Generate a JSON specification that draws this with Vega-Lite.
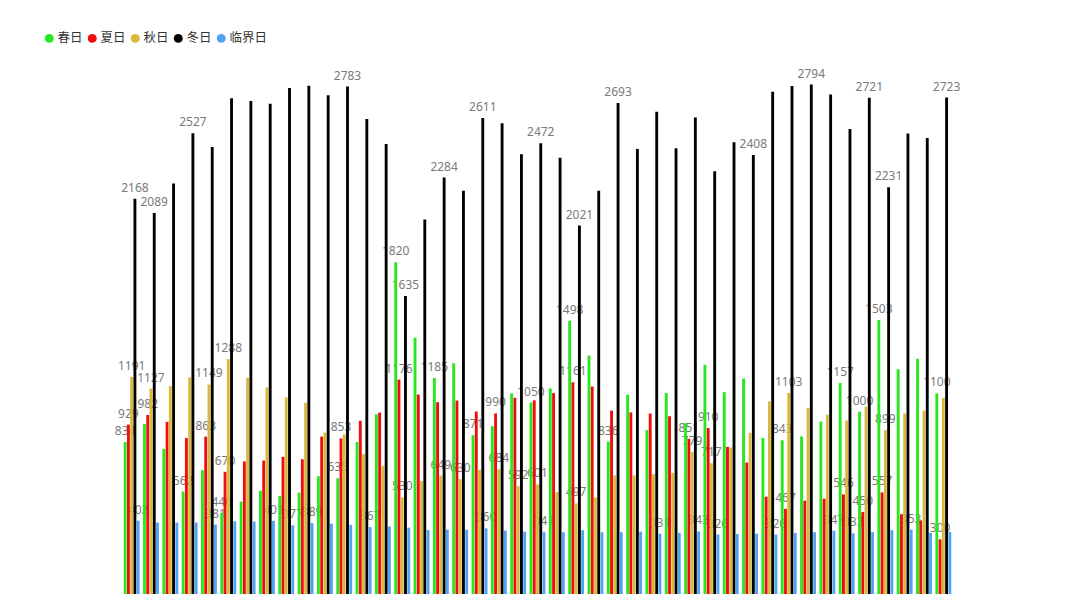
{
  "$schema": "https://vega.github.io/schema/vega-lite/v6.json",
  "width": 831,
  "height": 547,
  "autosize": "none",
  "padding": {"left": 122, "top": 47, "right": 127, "bottom": 21},
  "background": "white",
  "config": {"view": {"stroke": null}},
  "data": {
    "values": [
      {"g": 1, "s": "春日", "v": 834, "lab": true}, {"g": 1, "s": "夏日", "v": 929, "lab": true}, {"g": 1, "s": "秋日", "v": 1191, "lab": true}, {"g": 1, "s": "冬日", "v": 2168, "lab": true}, {"g": 1, "s": "临界日", "v": 402, "lab": true},
      {"g": 2, "s": "春日", "v": 933}, {"g": 2, "s": "夏日", "v": 982, "lab": true}, {"g": 2, "s": "秋日", "v": 1127, "lab": true}, {"g": 2, "s": "冬日", "v": 2089, "lab": true}, {"g": 2, "s": "临界日", "v": 392},
      {"g": 3, "s": "春日", "v": 796}, {"g": 3, "s": "夏日", "v": 944}, {"g": 3, "s": "秋日", "v": 1140}, {"g": 3, "s": "冬日", "v": 2251}, {"g": 3, "s": "临界日", "v": 392},
      {"g": 4, "s": "春日", "v": 562, "lab": true}, {"g": 4, "s": "夏日", "v": 855}, {"g": 4, "s": "秋日", "v": 1188}, {"g": 4, "s": "冬日", "v": 2527, "lab": true}, {"g": 4, "s": "临界日", "v": 392},
      {"g": 5, "s": "春日", "v": 679}, {"g": 5, "s": "夏日", "v": 863, "lab": true}, {"g": 5, "s": "秋日", "v": 1149, "lab": true}, {"g": 5, "s": "冬日", "v": 2452}, {"g": 5, "s": "临界日", "v": 381, "lab": true},
      {"g": 6, "s": "春日", "v": 446, "lab": true}, {"g": 6, "s": "夏日", "v": 670, "lab": true}, {"g": 6, "s": "秋日", "v": 1288, "lab": true}, {"g": 6, "s": "冬日", "v": 2719}, {"g": 6, "s": "临界日", "v": 399},
      {"g": 7, "s": "春日", "v": 507}, {"g": 7, "s": "夏日", "v": 727}, {"g": 7, "s": "秋日", "v": 1186}, {"g": 7, "s": "冬日", "v": 2704}, {"g": 7, "s": "临界日", "v": 397},
      {"g": 8, "s": "春日", "v": 566}, {"g": 8, "s": "夏日", "v": 732}, {"g": 8, "s": "秋日", "v": 1133}, {"g": 8, "s": "冬日", "v": 2689}, {"g": 8, "s": "临界日", "v": 401, "lab": true},
      {"g": 9, "s": "春日", "v": 538}, {"g": 9, "s": "夏日", "v": 752}, {"g": 9, "s": "秋日", "v": 1078}, {"g": 9, "s": "冬日", "v": 2775}, {"g": 9, "s": "临界日", "v": 377, "lab": true},
      {"g": 10, "s": "春日", "v": 556}, {"g": 10, "s": "夏日", "v": 739}, {"g": 10, "s": "秋日", "v": 1049}, {"g": 10, "s": "冬日", "v": 2788}, {"g": 10, "s": "临界日", "v": 389, "lab": true},
      {"g": 11, "s": "春日", "v": 646}, {"g": 11, "s": "夏日", "v": 863}, {"g": 11, "s": "秋日", "v": 885}, {"g": 11, "s": "冬日", "v": 2735}, {"g": 11, "s": "临界日", "v": 386},
      {"g": 12, "s": "春日", "v": 635, "lab": true}, {"g": 12, "s": "夏日", "v": 853, "lab": true}, {"g": 12, "s": "秋日", "v": 875}, {"g": 12, "s": "冬日", "v": 2783, "lab": true}, {"g": 12, "s": "临界日", "v": 379},
      {"g": 13, "s": "春日", "v": 834}, {"g": 13, "s": "夏日", "v": 950}, {"g": 13, "s": "秋日", "v": 767}, {"g": 13, "s": "冬日", "v": 2605}, {"g": 13, "s": "临界日", "v": 367, "lab": true},
      {"g": 14, "s": "春日", "v": 986}, {"g": 14, "s": "夏日", "v": 995}, {"g": 14, "s": "秋日", "v": 703}, {"g": 14, "s": "冬日", "v": 2468}, {"g": 14, "s": "临界日", "v": 370},
      {"g": 15, "s": "春日", "v": 1820, "lab": true}, {"g": 15, "s": "夏日", "v": 1176, "lab": true}, {"g": 15, "s": "秋日", "v": 530, "lab": true}, {"g": 15, "s": "冬日", "v": 1635, "lab": true}, {"g": 15, "s": "临界日", "v": 364},
      {"g": 16, "s": "春日", "v": 1405}, {"g": 16, "s": "夏日", "v": 1094}, {"g": 16, "s": "秋日", "v": 619}, {"g": 16, "s": "冬日", "v": 2054}, {"g": 16, "s": "临界日", "v": 351},
      {"g": 17, "s": "春日", "v": 1185, "lab": true}, {"g": 17, "s": "夏日", "v": 1052}, {"g": 17, "s": "秋日", "v": 649, "lab": true}, {"g": 17, "s": "冬日", "v": 2284, "lab": true}, {"g": 17, "s": "临界日", "v": 353},
      {"g": 18, "s": "春日", "v": 1266}, {"g": 18, "s": "夏日", "v": 1061}, {"g": 18, "s": "秋日", "v": 630, "lab": true}, {"g": 18, "s": "冬日", "v": 2212}, {"g": 18, "s": "临界日", "v": 353},
      {"g": 19, "s": "春日", "v": 871, "lab": true}, {"g": 19, "s": "夏日", "v": 1001}, {"g": 19, "s": "秋日", "v": 681}, {"g": 19, "s": "冬日", "v": 2611, "lab": true}, {"g": 19, "s": "临界日", "v": 360, "lab": true},
      {"g": 20, "s": "春日", "v": 920}, {"g": 20, "s": "夏日", "v": 990, "lab": true}, {"g": 20, "s": "秋日", "v": 684, "lab": true}, {"g": 20, "s": "冬日", "v": 2582}, {"g": 20, "s": "临界日", "v": 348},
      {"g": 21, "s": "春日", "v": 1100}, {"g": 21, "s": "夏日", "v": 1076}, {"g": 21, "s": "秋日", "v": 592, "lab": true}, {"g": 21, "s": "冬日", "v": 2412}, {"g": 21, "s": "临界日", "v": 342},
      {"g": 22, "s": "春日", "v": 1050, "lab": true}, {"g": 22, "s": "夏日", "v": 1062}, {"g": 22, "s": "秋日", "v": 601, "lab": true}, {"g": 22, "s": "冬日", "v": 2472, "lab": true}, {"g": 22, "s": "临界日", "v": 341, "lab": true},
      {"g": 23, "s": "春日", "v": 1127}, {"g": 23, "s": "夏日", "v": 1102}, {"g": 23, "s": "秋日", "v": 558}, {"g": 23, "s": "冬日", "v": 2393}, {"g": 23, "s": "临界日", "v": 339},
      {"g": 24, "s": "春日", "v": 1498, "lab": true}, {"g": 24, "s": "夏日", "v": 1161, "lab": true}, {"g": 24, "s": "秋日", "v": 497, "lab": true}, {"g": 24, "s": "冬日", "v": 2021, "lab": true}, {"g": 24, "s": "临界日", "v": 350},
      {"g": 25, "s": "春日", "v": 1308}, {"g": 25, "s": "夏日", "v": 1138}, {"g": 25, "s": "秋日", "v": 529}, {"g": 25, "s": "冬日", "v": 2211}, {"g": 25, "s": "临界日", "v": 339},
      {"g": 26, "s": "春日", "v": 836, "lab": true}, {"g": 26, "s": "夏日", "v": 1006}, {"g": 26, "s": "秋日", "v": 650}, {"g": 26, "s": "冬日", "v": 2693, "lab": true}, {"g": 26, "s": "临界日", "v": 339},
      {"g": 27, "s": "春日", "v": 1093}, {"g": 27, "s": "夏日", "v": 996}, {"g": 27, "s": "秋日", "v": 650}, {"g": 27, "s": "冬日", "v": 2441}, {"g": 27, "s": "临界日", "v": 342},
      {"g": 28, "s": "春日", "v": 899}, {"g": 28, "s": "夏日", "v": 990}, {"g": 28, "s": "秋日", "v": 657}, {"g": 28, "s": "冬日", "v": 2645}, {"g": 28, "s": "临界日", "v": 331, "lab": true},
      {"g": 29, "s": "春日", "v": 1102}, {"g": 29, "s": "夏日", "v": 975}, {"g": 29, "s": "秋日", "v": 664}, {"g": 29, "s": "冬日", "v": 2445}, {"g": 29, "s": "临界日", "v": 335},
      {"g": 30, "s": "春日", "v": 937}, {"g": 30, "s": "夏日", "v": 851, "lab": true}, {"g": 30, "s": "秋日", "v": 779, "lab": true}, {"g": 30, "s": "冬日", "v": 2613}, {"g": 30, "s": "临界日", "v": 343, "lab": true},
      {"g": 31, "s": "春日", "v": 1257}, {"g": 31, "s": "夏日", "v": 910, "lab": true}, {"g": 31, "s": "秋日", "v": 717, "lab": true}, {"g": 31, "s": "冬日", "v": 2318}, {"g": 31, "s": "临界日", "v": 326, "lab": true},
      {"g": 32, "s": "春日", "v": 1107}, {"g": 32, "s": "夏日", "v": 807}, {"g": 32, "s": "秋日", "v": 803}, {"g": 32, "s": "冬日", "v": 2477}, {"g": 32, "s": "临界日", "v": 329},
      {"g": 33, "s": "春日", "v": 1182}, {"g": 33, "s": "夏日", "v": 721}, {"g": 33, "s": "秋日", "v": 884}, {"g": 33, "s": "冬日", "v": 2408, "lab": true}, {"g": 33, "s": "临界日", "v": 331},
      {"g": 34, "s": "春日", "v": 856}, {"g": 34, "s": "夏日", "v": 534}, {"g": 34, "s": "秋日", "v": 1056}, {"g": 34, "s": "冬日", "v": 2755}, {"g": 34, "s": "临界日", "v": 326, "lab": true},
      {"g": 35, "s": "春日", "v": 843, "lab": true}, {"g": 35, "s": "夏日", "v": 467, "lab": true}, {"g": 35, "s": "秋日", "v": 1103, "lab": true}, {"g": 35, "s": "冬日", "v": 2786}, {"g": 35, "s": "临界日", "v": 335},
      {"g": 36, "s": "春日", "v": 864}, {"g": 36, "s": "夏日", "v": 512}, {"g": 36, "s": "秋日", "v": 1021}, {"g": 36, "s": "冬日", "v": 2794, "lab": true}, {"g": 36, "s": "临界日", "v": 339},
      {"g": 37, "s": "春日", "v": 946}, {"g": 37, "s": "夏日", "v": 523}, {"g": 37, "s": "秋日", "v": 983}, {"g": 37, "s": "冬日", "v": 2739}, {"g": 37, "s": "临界日", "v": 347, "lab": true},
      {"g": 38, "s": "春日", "v": 1157, "lab": true}, {"g": 38, "s": "夏日", "v": 546, "lab": true}, {"g": 38, "s": "秋日", "v": 952}, {"g": 38, "s": "冬日", "v": 2550}, {"g": 38, "s": "临界日", "v": 333, "lab": true},
      {"g": 39, "s": "春日", "v": 1000, "lab": true}, {"g": 39, "s": "夏日", "v": 450, "lab": true}, {"g": 39, "s": "秋日", "v": 1028}, {"g": 39, "s": "冬日", "v": 2721, "lab": true}, {"g": 39, "s": "临界日", "v": 339},
      {"g": 40, "s": "春日", "v": 1503, "lab": true}, {"g": 40, "s": "夏日", "v": 557, "lab": true}, {"g": 40, "s": "秋日", "v": 899, "lab": true}, {"g": 40, "s": "冬日", "v": 2231, "lab": true}, {"g": 40, "s": "临界日", "v": 350},
      {"g": 41, "s": "春日", "v": 1233}, {"g": 41, "s": "夏日", "v": 437}, {"g": 41, "s": "秋日", "v": 990}, {"g": 41, "s": "冬日", "v": 2525}, {"g": 41, "s": "临界日", "v": 353, "lab": true},
      {"g": 42, "s": "春日", "v": 1290}, {"g": 42, "s": "夏日", "v": 403}, {"g": 42, "s": "秋日", "v": 1006}, {"g": 42, "s": "冬日", "v": 2501}, {"g": 42, "s": "临界日", "v": 335},
      {"g": 43, "s": "春日", "v": 1100, "lab": true}, {"g": 43, "s": "夏日", "v": 300, "lab": true}, {"g": 43, "s": "秋日", "v": 1076}, {"g": 43, "s": "冬日", "v": 2723, "lab": true}, {"g": 43, "s": "临界日", "v": 340}
    ]
  },
  "encoding": {
    "x": {"field": "g", "type": "ordinal", "axis": null, "scale": {"paddingInner": 0, "paddingOuter": 0}},
    "xOffset": {"field": "s", "type": "nominal", "sort": ["春日", "夏日", "秋日", "冬日", "临界日"], "scale": {"paddingInner": 0.12, "paddingOuter": 0.53}},
    "y": {"field": "v", "type": "quantitative", "axis": null, "scale": {"domain": [0, 3000]}}
  },
  "layer": [
    {
      "transform": [{"filter": "datum.lab"}],
      "mark": {"type": "text", "baseline": "bottom", "dy": -4, "font": "Noto Sans", "fontSize": 12, "color": "#7a7a7a"},
      "encoding": {"text": {"field": "v", "type": "quantitative"}}
    },
    {
      "mark": {"type": "bar"},
      "encoding": {
        "color": {
          "field": "s",
          "type": "nominal",
          "scale": {"domain": ["春日", "夏日", "秋日", "冬日", "临界日"], "range": ["#26e81c", "#ee0c0c", "#dbb83a", "#000000", "#4ea4f2"]},
          "legend": {
            "title": null,
            "orient": "none",
            "legendX": -79,
            "legendY": -15,
            "direction": "horizontal",
            "padding": 0,
            "symbolType": "circle",
            "symbolSize": 80,
            "symbolStrokeWidth": 0,
            "symbolOpacity": 1,
            "labelFont": "Noto Sans CJK SC",
            "labelFontSize": 12.5,
            "labelColor": "#333",
            "labelOffset": 2,
            "columnPadding": 3
          }
        }
      }
    }
  ]
}
